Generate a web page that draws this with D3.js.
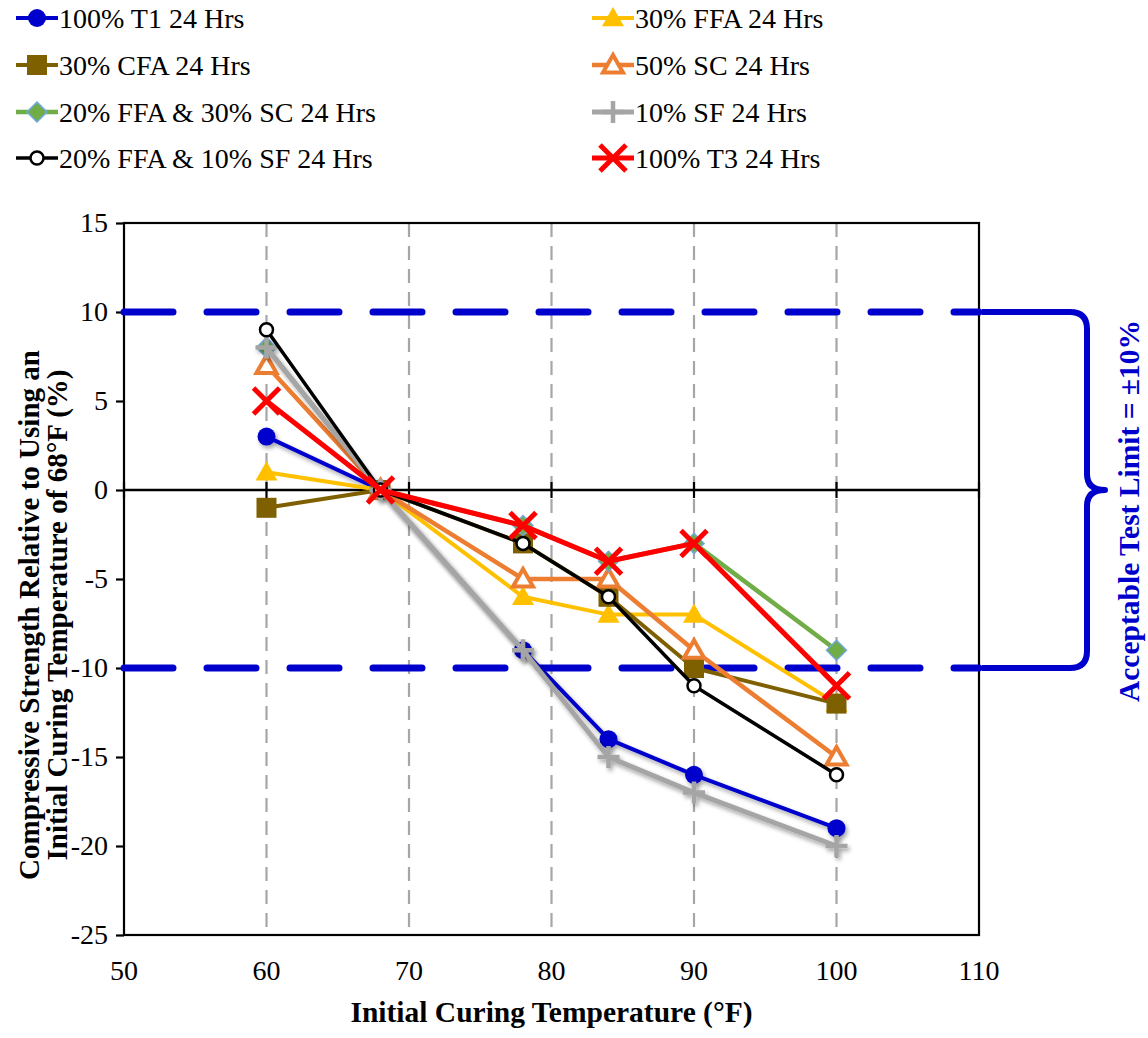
<!DOCTYPE html>
<html>
<head>
<meta charset="utf-8">
<script src="https://cdn.jsdelivr.net/npm/d3@7"></script>
<style>
  html, body { margin: 0; padding: 0; background: #fff; }
  svg { display: block; }
  text { font-family: "Liberation Serif", "Times New Roman", serif; fill: #000; }
</style>
</head>
<body>
<svg id="chart" width="1148" height="1038"></svg>
<script>
// Initial curing temperature (°F) at which each mix was cured
const temps = [60, 68, 78, 84, 90, 100];

// Compressive strength relative to 68°F curing (%), one array per mix
const t1_24 = [3, 0, -9, -14, -16, -19];
const ffa30_24 = [1, 0, -6, -7, -7, -12];
const cfa30_24 = [-1, 0, -3, -6, -10, -12];
const sc50_24 = [7, 0, -5, -5, -9, -15];
const ffa20sc30_24 = [8, 0, -2, -4, -3, -9];
const sf10_24 = [8, 0, -9, -15, -17, -20];
const ffa20sf10_24 = [9, 0, -3, -6, -11, -16];
const t3_24 = [5, 0, -2, -4, -3, -11];

const seriesNames = [
  "100% T1 24 Hrs", "30% FFA 24 Hrs", "30% CFA 24 Hrs", "50% SC 24 Hrs",
  "20% FFA & 30% SC 24 Hrs", "10% SF 24 Hrs", "20% FFA & 10% SF 24 Hrs", "100% T3 24 Hrs"
];
const seriesValues = [t1_24, ffa30_24, cfa30_24, sc50_24, ffa20sc30_24, sf10_24, ffa20sf10_24, t3_24];

// Axis ticks and the acceptance band
const xTicks = [50, 60, 70, 80, 90, 100, 110];
const yTicks = [15, 10, 5, 0, -5, -10, -15, -20, -25];
const limitBand = [10, -10];
const limitLabel = "Acceptable Test Limit = \u00B110%";

// Visual style per series
const styles = [
  { color: "#0000CC", width: 4, marker: "circle", fill: "#0000CC", stroke: "none", size: 9, shadow: true },
  { color: "#FFC000", width: 4, marker: "triangle", fill: "#FFC000", stroke: "none", size: 11 },
  { color: "#7F6000", width: 4, marker: "square", fill: "#7F6000", stroke: "none", size: 10 },
  { color: "#ED7D31", width: 4.5, marker: "triangle", fill: "#fff", stroke: "#ED7D31", strokeWidth: 4, size: 10 },
  { color: "#70AD47", width: 4.5, marker: "diamond", fill: "#70AD47", stroke: "#6FA8DC", strokeWidth: 1.5, size: 10 },
  { color: "#A5A5A5", width: 5, marker: "plus", fill: "none", stroke: "#A5A5A5", strokeWidth: 4.5, size: 11, shadow: true },
  { color: "#000000", width: 3.5, marker: "circle", fill: "#fff", stroke: "#000", strokeWidth: 2.5, size: 6.5 },
  { color: "#FF0000", width: 5, marker: "x", fill: "none", stroke: "#FF0000", strokeWidth: 5, size: 13 }
];

const svg = d3.select("#chart");
const margin = { left: 124, right: 979, top: 223, bottom: 935 };

const x = d3.scaleLinear().domain([50, 110]).range([margin.left, margin.right]);
const y = d3.scaleLinear().domain([-25, 15]).range([margin.bottom, margin.top]);

const defs = svg.append("defs");
const shadow = defs.append("filter").attr("id", "soft-shadow")
  .attr("x", "-20%").attr("y", "-20%").attr("width", "140%").attr("height", "140%");
shadow.append("feDropShadow").attr("dx", 2).attr("dy", 3).attr("stdDeviation", 2)
  .attr("flood-color", "#000").attr("flood-opacity", 0.35);

// Vertical dashed gridlines at the inner x ticks
svg.append("g").selectAll("line")
  .data(xTicks.filter(d => d > 50 && d < 110))
  .join("line")
  .attr("x1", d => x(d)).attr("x2", d => x(d))
  .attr("y1", y(15)).attr("y2", y(-25))
  .attr("stroke", "#A6A6A6").attr("stroke-width", 2.2)
  .attr("stroke-dasharray", "14,9");

// Plot frame
svg.append("rect")
  .attr("x", margin.left).attr("y", margin.top)
  .attr("width", margin.right - margin.left).attr("height", margin.bottom - margin.top)
  .attr("fill", "none").attr("stroke", "#000").attr("stroke-width", 2.2);

// Left axis with outward ticks
const yAxis = d3.axisLeft(y).tickValues(yTicks).tickSize(8).tickPadding(8)
  .tickFormat(d => String(d));
const gy = svg.append("g").attr("transform", `translate(${margin.left},0)`).call(yAxis);
gy.attr("font-family", null).attr("font-size", null);
gy.select(".domain").remove();
gy.selectAll(".tick line").attr("stroke", "#000").attr("stroke-width", 2.2);
gy.selectAll(".tick text")
  .style("font-family", "'Liberation Serif', 'Times New Roman', serif")
  .style("font-size", "28px").attr("fill", "#000");

// Horizontal axis drawn through zero, with cross ticks
svg.append("line")
  .attr("x1", margin.left).attr("x2", margin.right)
  .attr("y1", y(0)).attr("y2", y(0))
  .attr("stroke", "#000").attr("stroke-width", 2.5);
svg.append("g").selectAll("line")
  .data(xTicks)
  .join("line")
  .attr("x1", d => x(d)).attr("x2", d => x(d))
  .attr("y1", y(0) - 8).attr("y2", y(0) + 8)
  .attr("stroke", "#000").attr("stroke-width", 2.2);

// X tick labels sit below the frame
svg.append("g").selectAll("text")
  .data(xTicks)
  .join("text")
  .attr("x", d => x(d)).attr("y", margin.bottom + 45)
  .attr("text-anchor", "middle")
  .style("font-size", "28px")
  .text(d => String(d));

// Axis titles
svg.append("text")
  .attr("x", (margin.left + margin.right) / 2).attr("y", 1022)
  .attr("text-anchor", "middle")
  .style("font-size", "29.5px").style("font-weight", "bold")
  .text("Initial Curing Temperature (\u00B0F)");

const yTitle = svg.append("text")
  .attr("transform", `translate(0, 615) rotate(-90)`)
  .attr("text-anchor", "middle")
  .style("font-size", "29px").style("font-weight", "bold");
yTitle.append("tspan").attr("x", 0).attr("y", 39).text("Compressive Strength Relative to Using an");
yTitle.append("tspan").attr("x", 0).attr("y", 67).text("Initial Curing Temperature of 68\u00B0F (%)");

// Acceptance band: dashed limits and a bracket with its label
svg.append("g").selectAll("line")
  .data(limitBand)
  .join("line")
  .attr("x1", margin.left).attr("x2", margin.right)
  .attr("y1", d => y(d)).attr("y2", d => y(d))
  .attr("stroke", "#0000CC").attr("stroke-width", 7)
  .attr("stroke-linecap", "round")
  .attr("stroke-dasharray", "49,34");

const bTop = y(limitBand[0]), bBot = y(limitBand[1]), bMid = y(0);
const bx0 = margin.right + 3, bx1 = 1087, bTip = 1105, r = 17;
const bracket = d3.path();
bracket.moveTo(bx0, bTop);
bracket.lineTo(bx1 - r, bTop);
bracket.quadraticCurveTo(bx1, bTop, bx1, bTop + r);
bracket.lineTo(bx1, bMid - 16);
bracket.quadraticCurveTo(bx1, bMid, bTip, bMid);
bracket.quadraticCurveTo(bx1, bMid, bx1, bMid + 16);
bracket.lineTo(bx1, bBot - r);
bracket.quadraticCurveTo(bx1, bBot, bx1 - r, bBot);
bracket.lineTo(bx0, bBot);
svg.append("path").attr("d", bracket.toString())
  .attr("fill", "none").attr("stroke", "#0000CC").attr("stroke-width", 6)
  .attr("stroke-linejoin", "round");

svg.append("text")
  .attr("transform", `translate(1139, ${(bTop + bBot) / 2 + 21}) rotate(-90)`)
  .attr("text-anchor", "middle")
  .style("font-size", "29.5px").style("font-weight", "bold")
  .style("fill", "#0000CC")
  .text(limitLabel);

// Marker drawing shared by the plot and the legend
function drawMarker(g, s) {
  const k = s.size;
  if (s.marker === "circle") {
    g.append("circle").attr("r", k).attr("fill", s.fill)
      .attr("stroke", s.stroke).attr("stroke-width", s.strokeWidth || 0);
  } else if (s.marker === "triangle") {
    g.append("path").attr("d", `M0,${-k}L${k},${k * 0.75}L${-k},${k * 0.75}Z`)
      .attr("fill", s.fill).attr("stroke", s.stroke).attr("stroke-width", s.strokeWidth || 0)
      .attr("stroke-linejoin", "miter");
  } else if (s.marker === "square") {
    g.append("rect").attr("x", -k).attr("y", -k).attr("width", 2 * k).attr("height", 2 * k)
      .attr("fill", s.fill);
  } else if (s.marker === "diamond") {
    g.append("path").attr("d", `M0,${-k}L${k},0L0,${k}L${-k},0Z`)
      .attr("fill", s.fill).attr("stroke", s.stroke).attr("stroke-width", s.strokeWidth);
  } else if (s.marker === "plus") {
    g.append("path").attr("d", `M${-k},0H${k}M0,${-k}V${k}`)
      .attr("stroke", s.stroke).attr("stroke-width", s.strokeWidth);
  } else if (s.marker === "x") {
    g.append("path").attr("d", `M${-k},${-k}L${k},${k}M${k},${-k}L${-k},${k}`)
      .attr("stroke", s.stroke).attr("stroke-width", s.strokeWidth);
  }
}

// Series lines and markers, drawn in legend order
const line = d3.line().x(d => x(d[0])).y(d => y(d[1]));
seriesValues.forEach((vals, i) => {
  const s = styles[i];
  const pts = temps.map((t, j) => [t, vals[j]]);
  const g = svg.append("g").attr("class", "series");
  if (s.shadow) g.attr("filter", "url(#soft-shadow)");
  g.append("path").attr("d", line(pts))
    .attr("fill", "none").attr("stroke", s.color).attr("stroke-width", s.width)
    .attr("stroke-linejoin", "round");
  pts.forEach(p => {
    const m = g.append("g").attr("transform", `translate(${x(p[0])},${y(p[1])})`);
    drawMarker(m, s);
  });
});

// Legend: two columns, four rows, read row by row
const legendCols = [16, 592];
const legendRows = [18, 65, 112, 158];
seriesNames.forEach((name, i) => {
  const s = styles[i];
  const lx = legendCols[i % 2], ly = legendRows[Math.floor(i / 2)];
  const g = svg.append("g").attr("transform", `translate(${lx},${ly})`);
  g.append("line").attr("x1", 0).attr("x2", 42).attr("y1", 0).attr("y2", 0)
    .attr("stroke", s.color).attr("stroke-width", s.width);
  const m = g.append("g").attr("transform", "translate(21,0)");
  drawMarker(m, s);
  g.append("text").attr("x", 43).attr("y", 10)
    .style("font-size", "28px")
    .text(name);
});
</script>
</body>
</html>
